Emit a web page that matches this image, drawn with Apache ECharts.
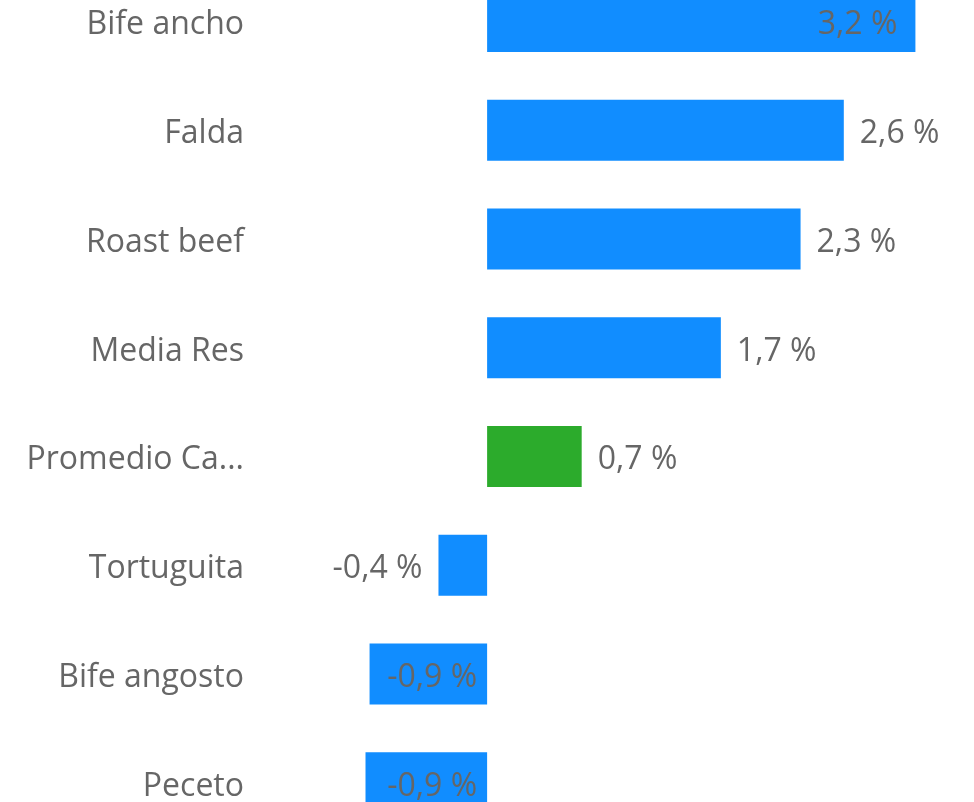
<!DOCTYPE html>
<html>
<head>
<meta charset="utf-8">
<script src="https://cdn.jsdelivr.net/npm/echarts@6/dist/echarts.min.js"></script>
<style>
  html, body { margin: 0; padding: 0; background: #fff; overflow: hidden; }
  /* le visuel d'origine est rogné en haut et en bas */
  #chart { width: 974px; height: 870px; position: relative; top: -33px; }
</style>
</head>
<body>
<div id="chart"></div>
<script>
// Données
const cortes = ["Bife ancho", "Falda", "Roast beef", "Media Res", "Promedio Carne vacuna", "Tortuguita", "Bife angosto", "Peceto"];
const variacion = [3.17, 2.64, 2.32, 1.73, 0.70, -0.36, -0.87, -0.90];
const promedio = "Promedio Carne vacuna";

const azul = "#118DFF";
const verde = "#2CAB2C";
const gris = "#666666";
const fuente = "'Open Sans', 'Noto Sans', sans-serif";

const fmt = v => v.toFixed(1).replace(".", ",") + " %";

// position de l'étiquette selon la place disponible
const barras = variacion.map((v, i) => {
    let label = { position: v < 0 ? "left" : "right" };
    if (v > 3) label = { position: "insideRight", distance: 18 };
    if (v < -0.5) label = { position: "insideRight", distance: 10 };
    return {
        value: v,
        itemStyle: { color: cortes[i] === promedio ? verde : azul },
        label: label
    };
});

const chart = echarts.init(document.getElementById("chart"));

chart.setOption({
    backgroundColor: "#fff",
    animation: false,
    grid: { left: 352, right: 14, top: 0, bottom: 0 },
    xAxis: {
        type: "value",
        min: -1,
        max: 3.5,
        show: false
    },
    yAxis: {
        type: "category",
        inverse: true,
        data: cortes,
        axisLine: { show: false },
        axisTick: { show: false },
        axisLabel: {
            margin: 108,
            color: gris,
            fontSize: 32,
            fontFamily: fuente,
            width: 222,
            overflow: "truncate",
            ellipsis: "...",
            formatter: v => "{t|" + v + "}",
            rich: {
                t: { color: gris, fontSize: 32, fontFamily: fuente, padding: [8, 0, 0, 0] }
            }
        }
    },
    series: [{
        type: "bar",
        data: barras,
        barWidth: 61,
        label: {
            show: true,
            color: gris,
            fontSize: 32,
            fontFamily: fuente,
            offset: [0, 4],
            distance: 16,
            formatter: p => fmt(p.value)
        }
    }]
});

window.addEventListener("resize", () => chart.resize());
</script>
</body>
</html>
